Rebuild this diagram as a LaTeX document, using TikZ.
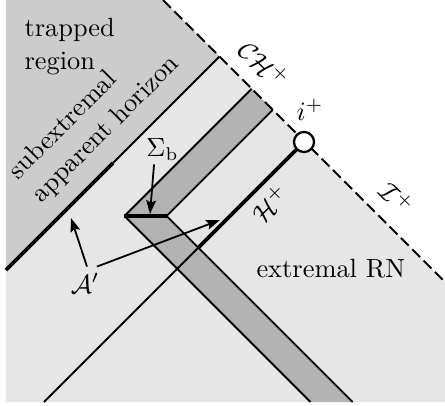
\documentclass[tikz,border=0pt]{standalone}
\usepackage{fontspec}
\usetikzlibrary{arrows.meta}
\definecolor{bglight}{HTML}{E6E6E6}
\definecolor{trapgray}{HTML}{CCCCCC}
\definecolor{bandgray}{HTML}{B3B3B3}
\begin{document}
\begin{tikzpicture}[x=0.3788pt,y=-0.3788pt,
  thinline/.style={line width=0.68pt},
  thickline/.style={line width=1.4pt},
  lbl/.style={font=\fontsize{10}{12.5}\selectfont, inner sep=0pt},
  arr/.style={line width=0.68pt, -{Stealth[length=5.2pt,width=3.7pt,inset=0.9pt]}},
  dashline/.style={line width=0.75pt, dash pattern=on 4.17pt off 1.9pt},
]
\useasboundingbox (0,0) rectangle (445,406);
% key points
\coordinate (TL) at (6,0);
\coordinate (BL) at (6,402);
\coordinate (BR) at (445,402);
\coordinate (Dtop) at (163,0);
\coordinate (Dend) at (445,282);
\coordinate (AHtop) at (219.5,56.5);
\coordinate (AHmid) at (113,163);
\coordinate (AHbot) at (6,270);
\coordinate (iplus) at (304,142);
\coordinate (Hbot) at (44,402);
\coordinate (Hcross) at (198.35,247.65);
\coordinate (SL) at (124.5,216);
\coordinate (SR) at (166.7,216);
\coordinate (BandLtop) at (251.75,88.75);
\coordinate (BandRtop) at (272.85,109.85);
\coordinate (BandLbot) at (310.5,402);
\coordinate (BandRbot) at (352.7,402);
% regions
\fill[bglight] (TL) -- (Dtop) -- (Dend) -- (BR) -- (BL) -- cycle;
\fill[trapgray] (TL) -- (Dtop) -- (AHtop) -- (AHbot) -- cycle;
\fill[bandgray] (SL) -- (BandLtop) -- (BandRtop) -- (SR) -- (BandRbot) -- (BandLbot) -- cycle;
\draw[thinline] (SL) -- (BandLtop) (SR) -- (BandRtop) (SL) -- (BandLbot) (SR) -- (BandRbot);
% apparent horizon
\draw[thinline] (AHtop) -- (AHmid);
\draw[thickline] (AHmid) -- (AHbot);
% event horizon
\draw[thinline] (iplus) -- (Hbot);
\draw[thickline] (iplus) -- (Hcross);
% Sigma_b
\draw[line width=1.55pt] (SL) -- (SR);
% null boundary
\draw[dashline] (Dtop) -- (Dend);
\node[circle, draw, fill=white, line width=0.85pt, minimum size=7.6pt, inner sep=0pt] (ip) at (iplus) {};
% labels
\node[lbl, anchor=north west, align=left] (trap) at (24,17.5) {trapped\\region};
\node[lbl, rotate=45, align=left] (sah) at (94.7,118) {subextremal\\apparent horizon};
\node[lbl, anchor=base] (ern) at (330.8,277.3) {extremal RN};
\node[lbl, rotate=-45] (chl) at (264,64) {$\mathcal{CH}^+$};
\node[lbl, rotate=-45] (scril) at (397,198) {$\mathcal{I}^+$};
\node[lbl, rotate=45] (hl) at (270,204) {$\mathcal{H}^+$};
\node[lbl, anchor=base] (ipl) at (310,120) {$i^+$};
\node[lbl, anchor=base, inner sep=1.14pt] (sig) at (162.5,156.7) {$\Sigma_{\mathrm{b}}$};
\node[lbl, anchor=base, inner sep=2.27pt] (ap) at (85,293) {$\mathcal{A}'$};
% arrows
\coordinate (apTipL) at (71,218);
\coordinate (apTipR) at (220,220);
\coordinate (sigTip) at (150,214);
\draw[arr] ([xshift=0.76pt]ap.north) -- (apTipL);
\draw[arr] ([xshift=4.5pt]ap.north) -- (apTipR);
\draw[arr] ([xshift=-3.2pt]sig.south) -- (sigTip);
\end{tikzpicture}
\end{document}
